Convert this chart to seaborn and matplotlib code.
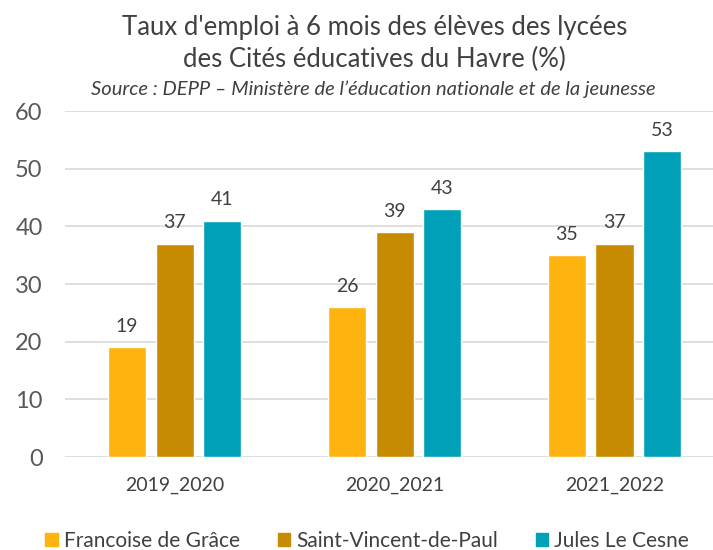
import matplotlib
matplotlib.use("Agg")
import matplotlib.pyplot as plt
import seaborn as sns
import pandas as pd
from matplotlib.patches import Patch

years = ["2019_2020", "2020_2021", "2021_2022"]
lycees = ["Francoise de Grâce", "Saint-Vincent-de-Paul", "Jules Le Cesne"]
francoise = [19, 26, 35]
saint_vincent = [37, 39, 37]
jules = [41, 43, 53]
colors = ["#FFB30F", "#C68B00", "#00A0B8"]

df = pd.DataFrame({
    "annee": years * 3,
    "lycee": [l for l in lycees for _ in years],
    "taux": francoise + saint_vincent + jules,
})

sns.set_style("white")
plt.rcParams['font.family'] = ['Lato', 'DejaVu Sans']

fig = plt.figure(figsize=(7.13, 5.5), dpi=100)
ax = fig.add_axes([0.091, 0.169, 0.925, 0.629])

sns.barplot(data=df, x="annee", y="taux", hue="lycee", hue_order=lycees,
            palette=colors, width=0.65, gap=0.2, ax=ax, legend=False,
            saturation=1, zorder=3)

for c in ax.containers:
    ax.bar_label(c, padding=9, fontsize=14, color="#404040")

ax.set_ylim(0, 60)
ax.set_xlim(-0.5, 2.5)
ax.set_yticks(range(0, 61, 10))
ax.yaxis.grid(True, color="#D9D9D9", linewidth=1.2, zorder=0)
ax.set_xlabel("")
ax.set_ylabel("")
for s in ax.spines.values():
    s.set_visible(False)
ax.tick_params(axis="y", labelsize=17, labelcolor="#595959", length=0, pad=16)
ax.tick_params(axis="x", labelsize=14, labelcolor="#404040", length=0, pad=14)

fig.text(0.525, 0.95, "Taux d'emploi à 6 mois des élèves des lycées", ha="center",
         va="center", fontsize=18.5, color="#404040")
fig.text(0.525, 0.892, "des Cités éducatives du Havre (%)", ha="center",
         va="center", fontsize=18.5, color="#404040")
fig.text(0.524, 0.838, "Source : DEPP – Ministère de l’éducation nationale et de la jeunesse",
         ha="center", va="center", fontsize=14.5, color="#404040", style="italic")

handles = [Patch(color=c) for c in colors]
fig.legend(handles, lycees, loc="center", bbox_to_anchor=(0.515, 0.017),
           ncol=3, frameon=False, fontsize=15, handlelength=0.6,
           handleheight=0.6, handletextpad=0.3, columnspacing=1.8,
           labelcolor="#404040")

fig.savefig("out.png", dpi=100)
